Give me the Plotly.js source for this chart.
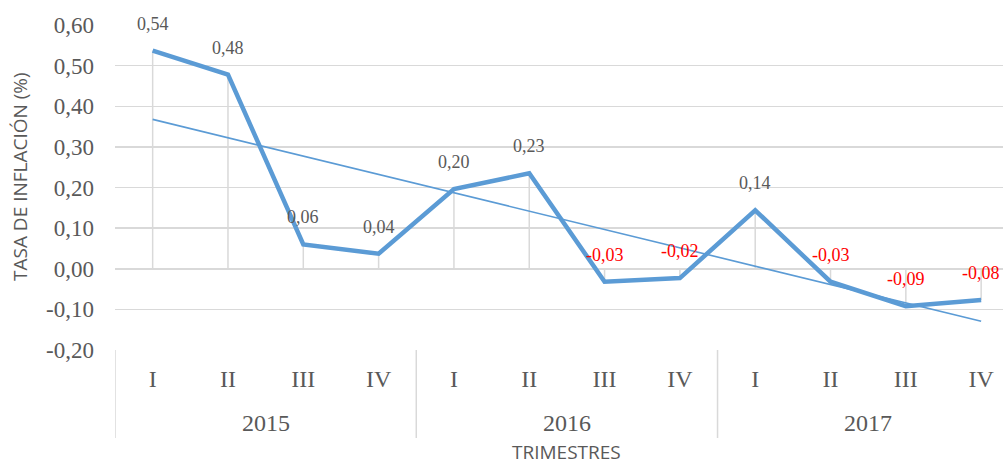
<!DOCTYPE html>
<html>
<head>
<meta charset="utf-8">
<script src="https://cdn.plot.ly/plotly-3.0.1.min.js"></script>
<style>html,body{margin:0;padding:0;background:#fff;}#chart{width:1003px;height:466px;}</style>
</head>
<body>
<div id="chart"></div>
<script>
// ---- data ----
var years = ["2015", "2016", "2017"];
var quarters = ["I", "II", "III", "IV", "I", "II", "III", "IV", "I", "II", "III", "IV"];
var inflation = [0.537, 0.478, 0.060, 0.037, 0.196, 0.235, -0.032, -0.023, 0.144, -0.032, -0.092, -0.077];
var yTickVals = [-0.2, -0.1, 0, 0.1, 0.2, 0.3, 0.4, 0.5, 0.6];
var yTickText = ["-0,20", "-0,10", "0,00", "0,10", "0,20", "0,30", "0,40", "0,50", "0,60"];
var yTitle = "TASA DE INFLACIÓN (%)";
var xTitle = "TRIMESTRES";

var idx = inflation.map(function (_, i) { return i; });

// linear trend (least squares)
var n = inflation.length;
var mx = idx.reduce(function (a, b) { return a + b; }, 0) / n;
var my = inflation.reduce(function (a, b) { return a + b; }, 0) / n;
var sxy = 0, sxx = 0;
idx.forEach(function (x, i) { sxy += (x - mx) * (inflation[i] - my); sxx += (x - mx) * (x - mx); });
var slope = sxy / sxx, icpt = my - slope * mx;
var trendX = [idx[0], idx[n - 1]];
var trendY = trendX.map(function (x) { return icpt + slope * x; });

// drop lines
var dropX = [], dropY = [];
idx.forEach(function (x, i) { dropX.push(x, x, null); dropY.push(0, inflation[i], null); });

var blue = "#5B9BD5";
var grey = "#595959";
var serif = "Liberation Serif, Times New Roman, serif";
var sans = "Open Sans, Liberation Sans, sans-serif";

var traces = [
  { x: dropX, y: dropY, mode: "lines", line: { color: "#D9D9D9", width: 1.5 }, hoverinfo: "skip", showlegend: false },
  { x: idx, y: inflation, mode: "lines", line: { color: blue, width: 4.5 }, showlegend: false },
  { x: trendX, y: trendY, mode: "lines", line: { color: blue, width: 1.6 }, showlegend: false }
];

var plotH = 325; // px height of plot area
function py(px) { return -(px - 350) / plotH; } // convert page y (below plot) to paper coordinate

var annotations = [];
// data labels
inflation.forEach(function (v, i) {
  annotations.push({
    x: i, y: v, xref: "x", yref: "y", showarrow: false,
    text: v.toFixed(2).replace(".", ","),
    yshift: 27, xanchor: "center", yanchor: "middle",
    font: { family: serif, size: 18, color: v < 0 ? "#FF0000" : grey }
  });
});
// year group labels
years.forEach(function (yr, g) {
  annotations.push({
    x: g * 4 + 1.5, y: py(423), xref: "x", yref: "paper", showarrow: false,
    text: yr, xanchor: "center", yanchor: "middle",
    font: { family: serif, size: 24, color: grey }
  });
});
// axis titles
annotations.push({
  x: 5.5, y: py(452), xref: "x", yref: "paper", showarrow: false, text: xTitle,
  xanchor: "center", yanchor: "middle", font: { family: sans, size: 19, color: grey }
});
annotations.push({
  x: -(115 - 20) / 888, y: (350 - 177) / plotH, xref: "paper", yref: "paper", showarrow: false,
  text: yTitle, textangle: -90, xanchor: "center", yanchor: "middle",
  font: { family: sans, size: 19, color: grey }
});

// category dividers
var shapes = [];
[-0.5, 3.5, 7.5, 11.5].forEach(function (xv) {
  shapes.push({ type: "line", xref: "x", yref: "paper", x0: xv, x1: xv, y0: 0, y1: py(438),
    line: { color: "#D9D9D9", width: 1.5 } });
});

var layout = {
  width: 1003, height: 466,
  margin: { l: 115, r: 0, t: 25, b: 116 },
  paper_bgcolor: "#fff", plot_bgcolor: "#fff",
  showlegend: false,
  xaxis: {
    range: [-0.5, 11.29], tickvals: idx, ticktext: quarters,
    showgrid: false, zeroline: false, showline: false, ticks: "",
    tickfont: { family: serif, size: 24, color: grey },
    ticklabelstandoff: 12, fixedrange: true
  },
  yaxis: {
    range: [-0.2, 0.6], tickvals: yTickVals, ticktext: yTickText,
    showgrid: true, gridcolor: "#D9D9D9", gridwidth: 1.5, zeroline: false, showline: false, ticks: "",
    tickfont: { family: serif, size: 23, color: grey },
    ticklabelstandoff: 20, fixedrange: true
  },
  annotations: annotations,
  shapes: shapes
};

Plotly.newPlot("chart", traces, layout, { displayModeBar: false, staticPlot: true });
</script>
</body>
</html>
